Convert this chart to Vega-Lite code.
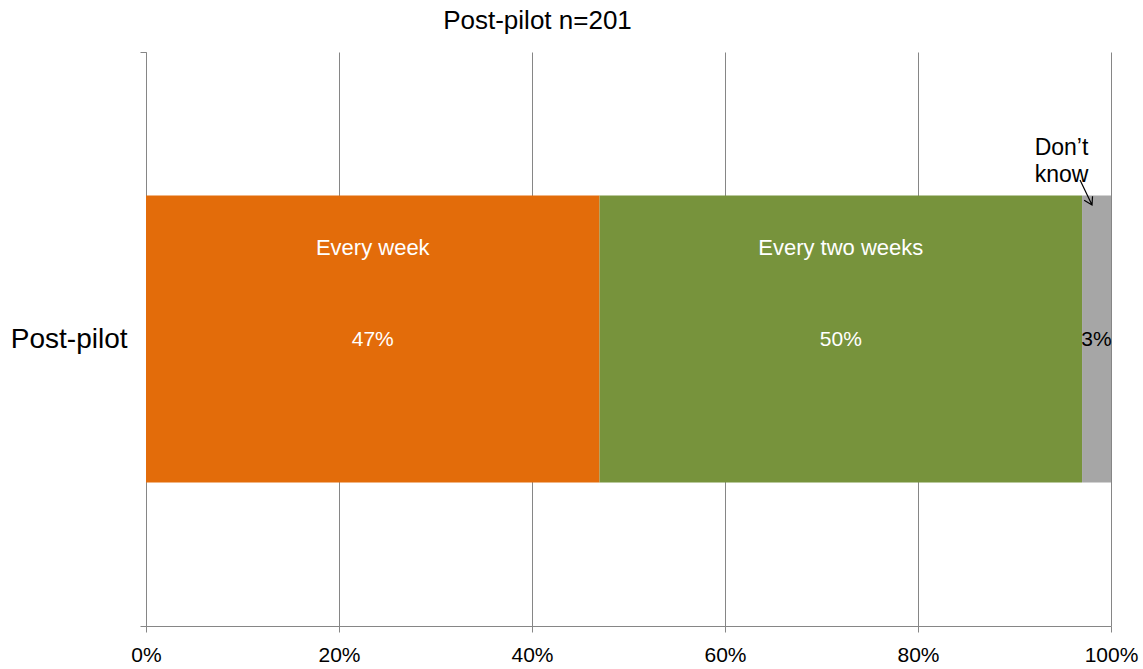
{
  "$schema": "https://vega.github.io/schema/vega-lite/v6.json",
  "autosize": "none",
  "width": 965,
  "height": 574,
  "padding": {"left": 146, "top": 52, "right": 32, "bottom": 43},
  "background": "white",
  "title": {"text": "Post-pilot n=201", "fontSize": 26, "font": "Liberation Sans", "fontWeight": "normal", "color": "black", "anchor": "middle", "dx": -91, "offset": 4},
  "config": {"view": {"stroke": null}, "font": "Liberation Sans"},
  "data": {"values": [
    {"group": "Post-pilot", "answer": "Every week", "value": 47, "order": 1},
    {"group": "Post-pilot", "answer": "Every two weeks", "value": 50, "order": 2},
    {"group": "Post-pilot", "answer": "Don’t know", "value": 3, "order": 3}
  ]},
  "transform": [
    {"stack": "value", "groupby": ["group"], "sort": [{"field": "order"}], "as": ["x0", "x1"]},
    {"calculate": "(datum.x0 + datum.x1) / 2", "as": "mid"}
  ],
  "encoding": {
    "y": {"field": "group", "type": "nominal", "title": null,
      "scale": {"paddingInner": 0, "paddingOuter": 0},
      "axis": {"domainColor": "#868686", "tickColor": "#868686", "tickBand": "extent", "tickSize": 6, "labelFontSize": 28, "labelColor": "black", "labelPadding": 13, "labelFont": "Liberation Sans", "grid": false}}
  },
  "layer": [
    {
      "mark": {"type": "bar", "height": {"band": 0.5}},
      "encoding": {
        "x": {"field": "x0", "type": "quantitative", "scale": {"domain": [0, 100], "nice": false},
          "title": null,
          "axis": {"values": [0, 20, 40, 60, 80, 100], "labelExpr": "datum.value + '%'", "labelFlush": false, "grid": true, "gridColor": "#868686", "domainColor": "#868686", "tickColor": "#868686", "tickSize": 6, "labelFontSize": 21, "labelColor": "black", "labelPadding": 12, "labelFont": "Liberation Sans"}},
        "x2": {"field": "x1"},
        "color": {"field": "answer", "type": "nominal", "legend": null,
          "scale": {"domain": ["Every week", "Every two weeks", "Don’t know"], "range": ["#E36C0A", "#77933C", "#A6A6A6"]}}
      }
    },
    {
      "transform": [{"filter": "datum.answer != 'Don’t know'"}],
      "mark": {"type": "text", "fontSize": 22, "dy": -91, "color": "white", "font": "Liberation Sans"},
      "encoding": {
        "x": {"field": "mid", "type": "quantitative"},
        "text": {"field": "answer"}
      }
    },
    {
      "mark": {"type": "text", "fontSize": 21, "font": "Liberation Sans", "dy": 1},
      "encoding": {
        "x": {"field": "mid", "type": "quantitative"},
        "text": {"value": {"expr": "datum.value + '%'"}},
        "color": {"condition": {"test": "datum.answer == 'Don’t know'", "value": "black"}, "value": "white"}
      }
    },
    {
      "transform": [{"filter": "datum.answer == 'Don’t know'"}],
      "mark": {"type": "text", "fontSize": 23, "font": "Liberation Sans", "color": "black", "dx": -35, "dy": -191, "lineBreak": " ", "lineHeight": 27},
      "encoding": {
        "x": {"field": "mid", "type": "quantitative"},
        "text": {"field": "answer"}
      }
    },
    {
      "transform": [{"filter": "datum.answer == 'Don’t know'"}],
      "mark": {"type": "point", "shape": "M-0.48,-1L0.48,1M-0.15,0.62L0.48,1L0.52,0.3", "size": 625, "filled": false, "stroke": "black", "strokeWidth": 1.2, "opacity": 1, "xOffset": -10.5, "yOffset": -146.5},
      "encoding": {
        "x": {"field": "mid", "type": "quantitative"}
      }
    }
  ]
}
